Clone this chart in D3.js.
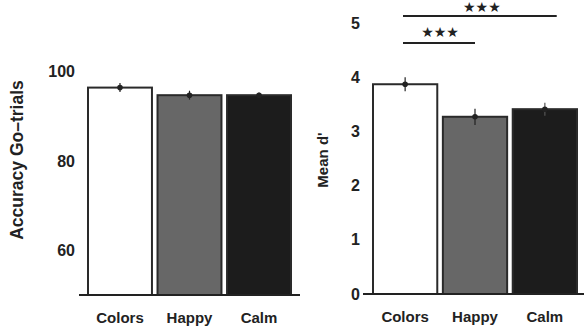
<!DOCTYPE html>
<html lang="en">
<head>
  <meta charset="UTF-8">
  <title>Accuracy and d' by condition</title>
  <style>
    html, body { margin: 0; padding: 0; background: #fff; }
    text { font-family: "Liberation Sans", Arial, sans-serif; font-weight: bold; fill: #222; }
    .stars { font-family: "DejaVu Sans", sans-serif; font-weight: normal; }
  </style>
</head>
<body>
  <script src="https://d3js.org/d3.v7.min.js"></script>
  <script>
    const width = 584, height = 327

    const conditions = ['Colors', 'Happy', 'Calm']
    const barColors = ['#ffffff', '#676767', '#1c1c1c']

    const accuracy = [96.4, 94.7, 94.7]
    const accuracyErr = [1.0, 1.0, 0.6]
    const accuracyTicks = [60, 80, 100]

    const dprime = [3.87, 3.27, 3.41]
    const dprimeErr = [0.13, 0.15, 0.12]
    const dprimeTicks = [0, 1, 2, 3, 4, 5]

    // pairs compared against Colors: [from, to, height in d' units]
    const significance = [
      ['Colors', 'Happy', 4.63],
      ['Colors', 'Calm', 5.13]
    ]

    const svg = d3.select('body').append('svg')
      .attr('width', width)
      .attr('height', height)

    const drawPanel = opts => {
      const x = d3.scaleBand().domain(conditions)
        .range(opts.xRange).paddingInner(0.08).paddingOuter(0)
      const y = d3.scaleLinear().domain(opts.domain).range(opts.yRange)
      const g = svg.append('g')

      // tick labels only, no axis line
      const axis = g.append('g')
        .attr('transform', `translate(${opts.tickX},0)`)
        .call(d3.axisLeft(y).tickValues(opts.ticks).tickFormat(d3.format('d')).tickSize(0).tickPadding(0))
      axis.select('.domain').remove()
      axis.selectAll('text')
        .style('font-size', '16px')
        .style('font-family', '"Liberation Sans", Arial, sans-serif')
        .style('font-weight', 'bold')
        .attr('fill', '#222')

      g.append('text')
        .attr('transform', `translate(${opts.titleX},${opts.titleY}) rotate(-90)`)
        .attr('text-anchor', 'middle')
        .attr('dy', '0.35em')
        .style('font-size', opts.titleSize)
        .text(opts.title)

      g.selectAll('rect.bar')
        .data(opts.values)
        .join('rect')
          .attr('class', 'bar')
          .attr('x', (d, i) => x(conditions[i]))
          .attr('y', d => y(d))
          .attr('width', x.bandwidth())
          .attr('height', d => y(opts.domain[0]) - y(d))
          .attr('fill', (d, i) => barColors[i])
          .attr('stroke', '#2a2a2a')
          .attr('stroke-width', 2)

      g.append('line')
        .attr('x1', opts.baseX[0]).attr('x2', opts.baseX[1])
        .attr('y1', y(opts.domain[0])).attr('y2', y(opts.domain[0]))
        .attr('stroke', '#222').attr('stroke-width', 2)

      const cx = i => x(conditions[i]) + x.bandwidth() / 2
      g.selectAll('line.err')
        .data(opts.values)
        .join('line')
          .attr('class', 'err')
          .attr('x1', (d, i) => cx(i)).attr('x2', (d, i) => cx(i))
          .attr('y1', (d, i) => y(d - opts.errors[i]))
          .attr('y2', (d, i) => y(d + opts.errors[i]))
          .attr('stroke', (d, i) => i === 2 ? '#555' : '#222')
          .attr('stroke-width', 1.2)
      g.selectAll('circle.mean')
        .data(opts.values)
        .join('circle')
          .attr('class', 'mean')
          .attr('cx', (d, i) => cx(i))
          .attr('cy', d => y(d))
          .attr('r', 2.8)
          .attr('fill', '#222')

      g.selectAll('text.x')
        .data(conditions)
        .join('text')
          .attr('class', 'x')
          .attr('x', d => x(d) + x.bandwidth() / 2)
          .attr('y', opts.labelY)
          .attr('text-anchor', 'middle')
          .style('font-size', '15px')
          .text(d => d)

      return { x, y, g }
    }

    drawPanel({
      xRange: [88, 291], yRange: [295, 71.5], domain: [50, 100],
      values: accuracy, errors: accuracyErr, ticks: accuracyTicks,
      tickX: 75, baseX: [79, 300], labelY: 323,
      title: 'Accuracy Go–trials', titleX: 17, titleY: 160, titleSize: '17.5px'
    })

    const right = drawPanel({
      xRange: [373, 577], yRange: [294, 23], domain: [0, 5],
      values: dprime, errors: dprimeErr, ticks: dprimeTicks,
      tickX: 360, baseX: [363, 584], labelY: 322,
      title: "Mean d'", titleX: 323, titleY: 160, titleSize: '15px'
    })

    significance.forEach(([a, b, h]) => {
      const x1 = right.x(a) + 30
      const x2 = b === 'Calm' ? right.x(b) + 44 : right.x(b) + right.x.bandwidth() / 2
      const yy = right.y(h)
      right.g.append('line')
        .attr('x1', x1).attr('x2', x2)
        .attr('y1', yy).attr('y2', yy)
        .attr('stroke', '#222').attr('stroke-width', 2)
      right.g.append('text')
        .attr('class', 'stars')
        .attr('x', b === 'Calm' ? (x1 + x2) / 2 + 2 : (x1 + x2) / 2 + 1)
        .attr('y', b === 'Calm' ? yy - 4 : yy - 6)
        .attr('text-anchor', 'middle')
        .style('font-size', '14px')
        .text('★★★')
    })
  </script>
</body>
</html>
